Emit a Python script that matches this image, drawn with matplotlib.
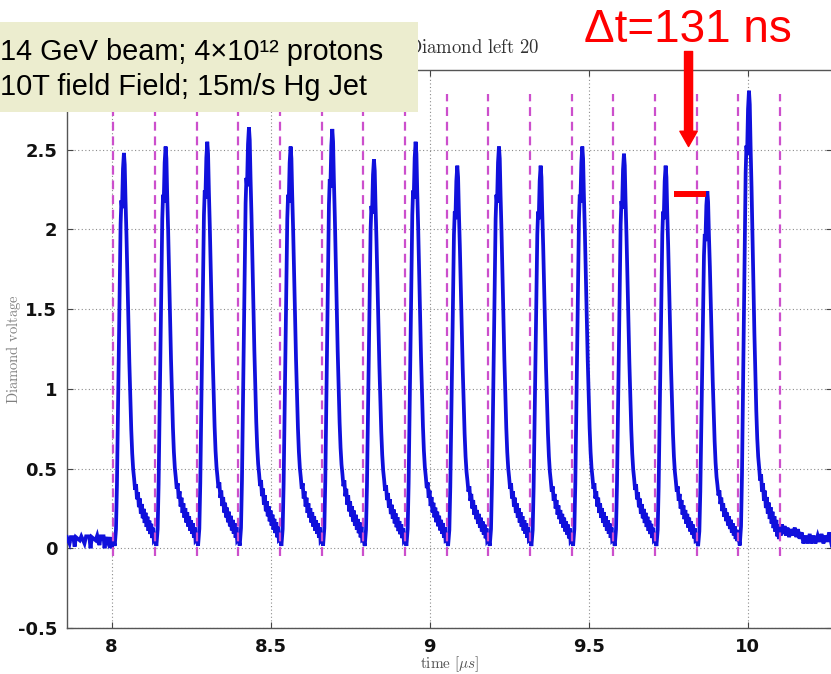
import matplotlib
matplotlib.use("Agg")
import numpy as np
import matplotlib.pyplot as plt
from matplotlib.patches import Rectangle, FancyArrowPatch, ArrowStyle

plt.rcParams["mathtext.fontset"] = "cm"

# Trigger times of the proton bunches (us)
trigger_times = [8.006, 8.137, 8.268, 8.399, 8.530, 8.661, 8.792, 8.923, 9.054,
                 9.185, 9.316, 9.447, 9.578, 9.709, 9.840, 9.971, 10.102]

# Peak diamond voltage of each of the 16 pulses
peak_voltage = [2.48, 2.52, 2.55, 2.64, 2.52, 2.63, 2.44, 2.55,
                2.40, 2.52, 2.40, 2.52, 2.475, 2.40, 2.24, 2.87]

# Single-pulse response: time after trigger (us) and fraction of the peak
pulse_dt = [0.000, 0.004, 0.008, 0.011, 0.0135, 0.0165, 0.0195, 0.0225, 0.025,
            0.027, 0.030, 0.033, 0.0355, 0.038, 0.041, 0.044, 0.047, 0.050,
            0.053, 0.056, 0.059, 0.062, 0.065, 0.068, 0.071, 0.074, 0.077,
            0.080, 0.083, 0.086, 0.089, 0.092, 0.095, 0.098, 0.101, 0.104,
            0.107, 0.110, 0.113, 0.116, 0.119, 0.122, 0.125, 0.127]
pulse_shape = [0.024, 0.006, 0.048, 0.16, 0.30, 0.46, 0.64, 0.82, 0.88,
               0.86, 0.96, 1.00, 0.97, 0.88, 0.79, 0.68, 0.58, 0.47,
               0.38, 0.30, 0.24, 0.20, 0.176, 0.148, 0.162, 0.124, 0.142,
               0.104, 0.126, 0.088, 0.112, 0.076, 0.100, 0.064, 0.090, 0.054,
               0.080, 0.044, 0.070, 0.036, 0.062, 0.026, 0.052, 0.020]

# Baseline before the first bunch
pre_t = [7.860, 7.868, 7.872, 7.880, 7.884, 7.888, 7.900, 7.905, 7.915, 7.920,
         7.930, 7.934, 7.938, 7.950, 7.955, 7.962, 7.966, 7.975, 7.978, 7.982,
         7.990, 7.995, 8.000, 8.004]
pre_v = [0.07, 0.03, 0.07, 0.07, 0.01, 0.07, 0.05, 0.075, 0.03, 0.075,
         0.075, 0.00, 0.07, 0.05, 0.08, 0.02, 0.075, 0.075, 0.00, 0.07,
         0.03, 0.07, 0.00, 0.05]

# Baseline after the last bunch
post_t = [10.101, 10.104, 10.108, 10.112, 10.116, 10.120, 10.125, 10.130,
          10.136, 10.142, 10.148, 10.153, 10.158, 10.163, 10.170, 10.175,
          10.182, 10.188, 10.195, 10.200, 10.207, 10.213, 10.220, 10.226,
          10.232, 10.238, 10.245, 10.250, 10.256, 10.262, 10.270]
post_v = [0.14, 0.08, 0.15, 0.09, 0.14, 0.08, 0.13, 0.07, 0.12, 0.08, 0.13,
          0.07, 0.12, 0.06, 0.10, 0.03, 0.08, 0.03, 0.09, 0.03, 0.08, 0.03,
          0.08, 0.04, 0.09, 0.03, 0.08, 0.04, 0.10, 0.04, 0.08]

x_ticks = [8, 8.5, 9, 9.5, 10]
x_tick_labels = ["8", "8.5", "9", "9.5", "10"]
y_ticks = [-0.5, 0, 0.5, 1, 1.5, 2, 2.5]
y_tick_labels = ["-0.5", "0", "0.5", "1", "1.5", "2", "2.5"]

# Assemble the full trace
t_parts = [np.array(pre_t)]
v_parts = [np.array(pre_v)]
for t0, pk in zip(trigger_times[:-1], peak_voltage):
    t_parts.append(t0 + np.array(pulse_dt))
    v_parts.append(pk * np.array(pulse_shape))
t_parts.append(np.array(post_t))
v_parts.append(np.array(post_v))
trace_t = np.concatenate(t_parts)
trace_v = np.concatenate(v_parts)

W, H = 831, 674
fig = plt.figure(figsize=(W / 100, H / 100), dpi=100)
ax = fig.add_axes([67 / W, 1 - 628 / H, 765 / W, 558 / H])
ax.set_xlim(7.86, 10.265)
ax.set_ylim(-0.5, 3.0)

ax.grid(True, linestyle=(0, (1, 2.2)), color="#8c8c8c", linewidth=0.8)
ax.set_axisbelow(True)

ax.plot(trace_t, trace_v, color="#1010dc", linewidth=2.7, zorder=3,
        solid_joinstyle="miter")

ax.vlines(trigger_times, -0.05, 2.85, colors="#cc4fcc", linestyles=(0, (4, 2.6)),
          linewidth=1.6, zorder=4)

ax.set_xticks(x_ticks)
ax.set_yticks(y_ticks)
ax.set_xticklabels(x_tick_labels)
ax.set_yticklabels(y_tick_labels)
ax.tick_params(direction="in", length=4, width=0.8, color="#444444",
               top=True, right=True, labelsize=13, pad=7)
for lab in ax.get_xticklabels() + ax.get_yticklabels():
    lab.set_fontweight("bold")
    lab.set_family("DejaVu Sans")
    lab.set_color("#111111")
for sp in ax.spines.values():
    sp.set_color("#555555")
    sp.set_linewidth(1.0)

ax.set_ylabel(r"$\mathrm{Diamond\ voltage}$", fontsize=10.5, color="#808080")
ax.yaxis.set_label_coords(-0.0575, 0.5)
ax.set_xlabel(r"$\mathrm{time}\ [\mu s]$", fontsize=11, color="#555555")
ax.xaxis.set_label_coords(0.5, -0.047)

fig.text(473 / W, 1 - 53 / H, r"$\mathrm{Diamond\ left\ 20}$", fontsize=13.5,
         color="#333333", ha="center", va="baseline", zorder=5)

# Red marker: arrow and bar
arrow = FancyArrowPatch((9.814, 3.116), (9.814, 2.52),
                        arrowstyle=ArrowStyle.Simple(head_length=11, head_width=12.5,
                                                     tail_width=5.8),
                        mutation_scale=1, shrinkA=0, shrinkB=0, color="red",
                        clip_on=False, zorder=6)
ax.add_patch(arrow)
ax.hlines(2.22, 9.767, 9.868, colors="red", linewidth=4.3, zorder=6)

fig.text(688 / W, 1 - 42 / H, "\u0394t=131 ns", fontsize=33, color="red",
         family="Liberation Sans", ha="center", va="baseline", zorder=6)

# Beam conditions box
fig.patches.append(Rectangle((0, 1 - 112 / H), 418 / W, 90 / H,
                             transform=fig.transFigure, facecolor="#ecedcf",
                             edgecolor="none", zorder=10))
fig.text(0.0, 1 - 60 / H, "14 GeV beam; 4\u00d710\u00b9\u00b2 protons", fontsize=20.8,
         family="Liberation Sans", color="black", ha="left", va="baseline", zorder=11)
fig.text(0.0, 1 - 95 / H, "10T field Field; 15m/s Hg Jet", fontsize=20.8,
         family="Liberation Sans", color="black", ha="left", va="baseline", zorder=11)

fig.savefig("out.png", dpi=100)
